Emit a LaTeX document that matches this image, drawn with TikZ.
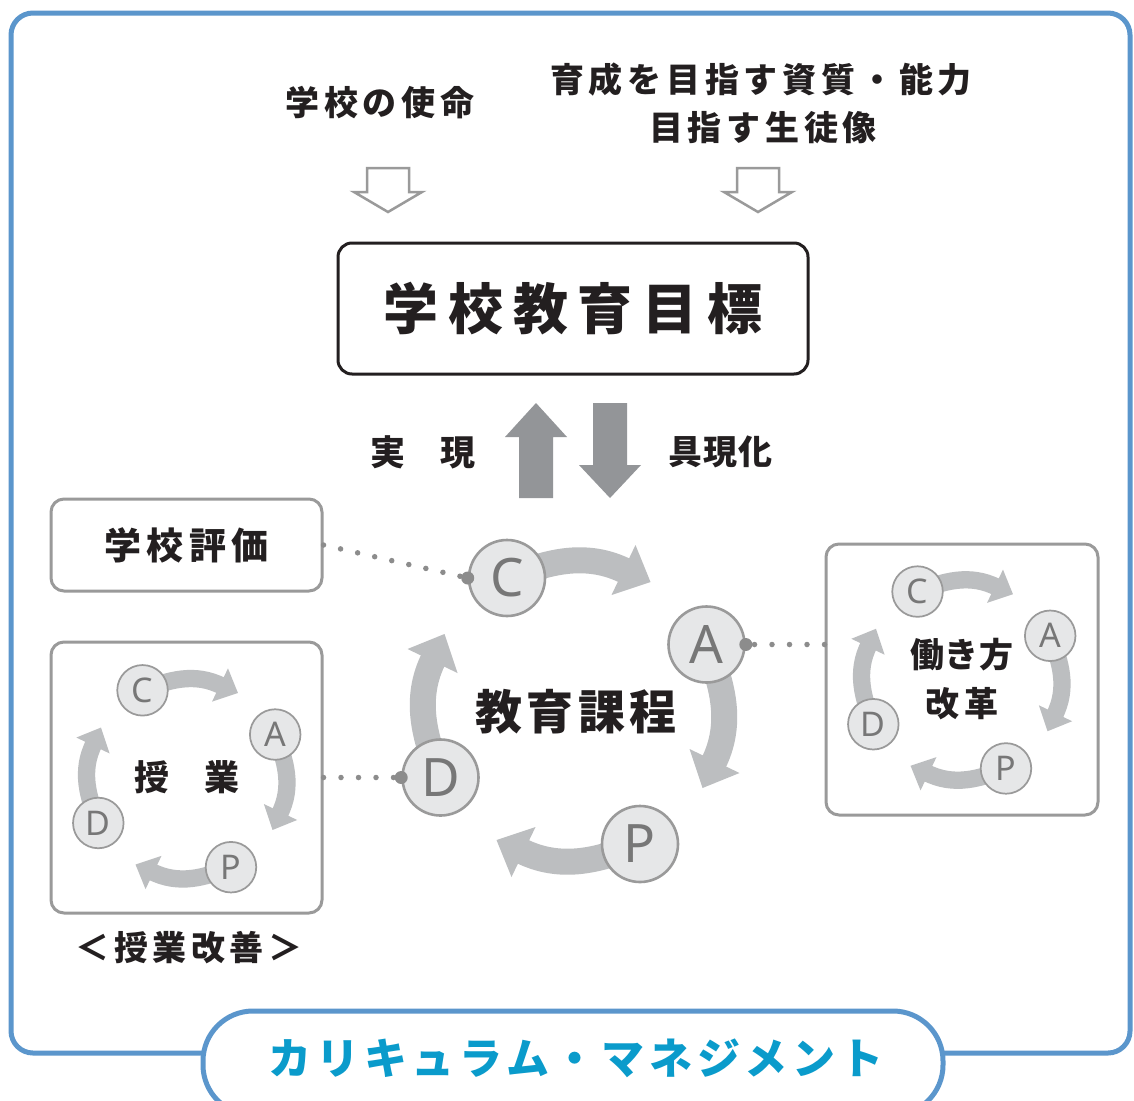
\documentclass[tikz,border=0pt]{standalone}
\usepackage{fontspec}
\setmainfont{Noto Sans}
\newfontfamily\jpfont{Noto Sans CJK JP}
\newfontfamily\latfont{Noto Sans}
\definecolor{frameblue}{HTML}{5B96CC}
\definecolor{titleblue}{HTML}{0A9BCB}
\definecolor{bandgray}{HTML}{BCBEC0}
\definecolor{solidgray}{HTML}{939598}
\definecolor{linegray}{HTML}{9A9A9A}
\definecolor{circfill}{HTML}{E6E7E8}
\definecolor{lettergray}{HTML}{777777}
\definecolor{dotgray}{HTML}{8C8C8C}
\definecolor{inkblack}{HTML}{231F20}
\newcommand\jpf[2]{\jpfont\bfseries\fontsize{#1}{#1}\selectfont\addfontfeatures{LetterSpace=#2}}
\newcommand\pdcacycle[4]{%
  \begin{scope}[shift={#2}, scale=#3]
    \foreach \ang in {0,-90,-180,-270}{
      \begin{scope}[rotate=\ang]
        \draw[bandgray, line width=#3*26pt] (-66.5,-133) .. controls (-28.5,-148) and (11.5,-161) .. (54,-139);
        \fill[bandgray] (62,-166) -- (77,-129) -- (38,-116) -- cycle;
      \end{scope}}
    \tikzset{pdcasz/.style={pdcacirc, minimum size=#3*76pt, line width=#3*2.6pt, font=\latfont\fontsize{#4}{#4}\selectfont}}
    \node[pdcasz] (#1C) at (-66.5,-133) {C};
    \node[pdcasz] (#1A) at (133,-66.5) {A};
    \node[pdcasz] (#1P) at (66.5,133) {P};
    \node[pdcasz] (#1D) at (-133,66.5) {D};
  \end{scope}}
\begin{document}
\begin{tikzpicture}[x=1pt,y=-1pt,
  graybox/.style={draw=linegray, line width=3pt, rounded corners=13pt, inner sep=0pt, text=inkblack},
  pdcacirc/.style={circle, draw=linegray, fill=circfill, text=lettergray, inner sep=0pt},
  dotline/.style={dotgray, line width=5.5pt, line cap=round, dash pattern=on 0pt off 17.5pt},
  hollowarrow/.style={draw=linegray, line width=2.5pt, line join=miter, fill=white},
  solidarrow/.style={fill=solidgray},
  jptext/.style={text=inkblack, inner sep=0pt}]
\clip (0,0) rectangle (1134,1100);
\fill[white] (0,0) rectangle (1134,1100);

% outer frame
\draw[frameblue, line width=5pt, rounded corners=22pt] (11,13) rectangle (1130,1053);

% top texts
\node[jptext, font=\jpf{34}{14}] (mission) at (380,103) {学校の使命};
\node[jptext, font=\jpf{34}{14}] (ability) at (761,80) {育成を目指す資質・能力};
\node[jptext, font=\jpf{34}{14}] (student) at (763,128) {目指す生徒像};

% hollow arrows
\coordinate (ha1) at (388,168);
\coordinate (ha2) at (758,168);
\foreach \h in {ha1,ha2}{
  \draw[hollowarrow] (\h) ++(-21,0) -- ++(42,0) -- ++(0,24) -- ++(13,0) -- ++(-34,20) -- ++(-34,-20) -- ++(13,0) -- cycle;
}

% main goal box
\node[draw=inkblack, line width=3pt, rounded corners=14pt, minimum width=470pt, minimum height=131pt, inner sep=0pt, text=inkblack, font=\jpf{55}{18}] (goal) at (573,308.5) {学校教育目標};

% solid arrows
\fill[solidarrow] (519,498) -- (519,437) -- (505,437) -- (536,403) -- (567,437) -- (553,437) -- (553,498) -- cycle;
\fill[solidarrow] (593,403) -- (627,403) -- (627,465) -- (641,465) -- (610,498) -- (579,465) -- (593,465) -- cycle;
\node[jptext, font=\jpf{35}{0}] (real) at (423,452) {実　現};
\node[jptext, font=\jpf{34}{3}] (emb) at (721,452) {具現化};

% school evaluation box
\node[graybox, minimum width=271pt, minimum height=92pt, font=\jpf{37}{14}] (eval) at (186.5,545) {学校評価};

% lesson box
\node[graybox, minimum width=271pt, minimum height=271pt, font=\jpf{35}{0}] (lesson) at (186.5,777.5) {授　業};
\node[jptext, font=\jpf{34}{13}] (lessonlbl) at (189,948) {＜授業改善＞};

% work style box
\node[graybox, minimum width=272pt, minimum height=271pt, align=center, font=\jpf{34}{2}] (work) at (962,679.5) {働き方\\[15pt]\addfontfeatures{LetterSpace=14}改革};

% cycles
\pdcacycle{b}{(573.5,711)}{1}{53}
\node[jptext, font=\jpf{47}{9}] (curr) at (576,712) {教育課程};
\pdcacycle{l}{(186.75,778.75)}{0.665}{34}
\pdcacycle{w}{(961.75,680)}{0.665}{34}

% dotted connectors
\draw[dotline] (eval.east) -- (bC.west);
\fill[dotgray] (bC.west) circle (6.5pt);
\draw[dotline] (work.west |- bA.east) -- (bA.east);
\fill[dotgray] (bA.east) circle (6.5pt);
\draw[dotline] (lesson.east |- bD.west) -- (bD.west);
\fill[dotgray] (bD.west) circle (6.5pt);

% title pill
\draw[frameblue, line width=5pt, fill=white, rounded corners=50pt] (203,1011) rectangle (943,1115);
\node[inner sep=0pt, text=titleblue, font=\jpf{43}{11}] (title) at (576,1058) {カリキュラム・マネジメント};
\end{tikzpicture}
\end{document}
